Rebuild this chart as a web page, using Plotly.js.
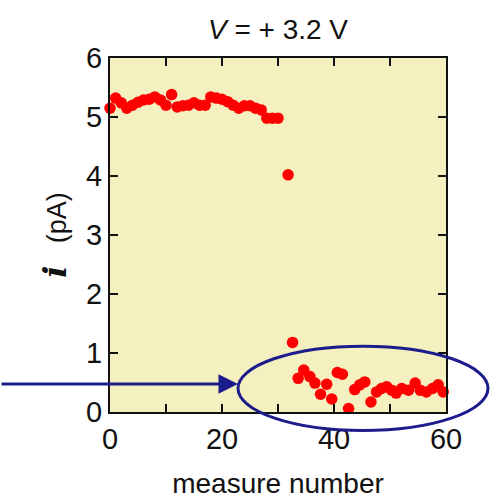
<!DOCTYPE html>
<html><head><meta charset="utf-8">
<script src="https://cdn.plot.ly/plotly-3.0.1.min.js"></script>
<style>html,body{margin:0;padding:0;background:#fff;}#chart{width:493px;height:501px;}</style>
</head><body><div id="chart"></div>
<script>
// measure numbers (x) and current values (pA)
const measureNumber = [0,1,2,3,4,5,6,7,8,9,10,11,12,13,14,15,16,17,18,19,20,21,22,23,24,25,26,27,28,29,30,
  31.8,32.6,33.6,34.6,35.7,36.6,37.6,38.7,39.6,40.6,41.5,42.6,43.7,44.6,45.5,46.6,47.6,48.5,49.4,50.3,51.1,52.1,53.3,54.5,55.4,56.5,57.6,58.6,59.5];
const currentPA = [5.15,5.32,5.24,5.15,5.2,5.25,5.29,5.3,5.34,5.29,5.2,5.38,5.17,5.19,5.2,5.24,5.2,5.2,5.34,5.32,5.3,5.26,5.2,5.15,5.19,5.19,5.15,5.12,4.98,4.98,4.98,
  4.02,1.18,0.57,0.71,0.6,0.49,0.3,0.47,0.22,0.67,0.64,0.06,0.38,0.46,0.51,0.17,0.34,0.4,0.43,0.37,0.32,0.4,0.37,0.49,0.37,0.34,0.4,0.46,0.34];
const xTicks = [0,20,40,60];
const yTicks = [0,1,2,3,4,5,6];
const titleText = '<i>V</i> = + 3.2 V';

const ink = '#111';
const navy = 'rgb(28,28,140)';
const fontFam = '"Liberation Sans", Arial, sans-serif';

const trace = {
  x: measureNumber, y: currentPA, type: 'scatter', mode: 'markers',
  marker: {color: '#ff0000', size: 11.5, line: {width: 0}},
  cliponaxis: false, hoverinfo: 'none'
};

const layout = {
  width: 493, height: 501,
  margin: {l: 110, r: 47, t: 58, b: 89},
  paper_bgcolor: '#ffffff',
  plot_bgcolor: 'rgb(245,240,192)',
  showlegend: false,
  font: {family: fontFam, color: ink, size: 28},
  title: {text: titleText, x: 0.5, xref: 'paper', y: 20, yref: 'container', yanchor: 'middle',
          font: {family: fontFam, size: 28, color: ink}},
  xaxis: {
    range: [0, 60], tickmode: 'array', tickvals: xTicks, ticktext: xTicks.map(String),
    ticks: 'inside', ticklen: 8, tickwidth: 2, tickcolor: ink,
    minor: {dtick: 10, tick0: 0, ticks: 'inside', ticklen: 8, tickwidth: 2, tickcolor: ink},
    showline: true, linecolor: ink, linewidth: 2, mirror: 'ticks',
    showgrid: false, zeroline: false,
    tickfont: {size: 29, family: fontFam, color: ink},
    title: {text: 'measure number', font: {size: 28, family: fontFam, color: ink}, standoff: 20}
  },
  yaxis: {
    range: [0, 6], tickmode: 'array', tickvals: yTicks, ticktext: yTicks.map(String),
    ticks: 'inside', ticklen: 8, tickwidth: 2, tickcolor: ink,
    showline: true, linecolor: ink, linewidth: 2, mirror: 'ticks',
    showgrid: false, zeroline: false,
    tickfont: {size: 29, family: fontFam, color: ink},
    title: {text: '<span style="font-family:\'DejaVu Serif\',serif;font-size:32px"><b><i>i</i></b></span>   (pA)',
            font: {size: 27, family: fontFam, color: ink}, standoff: 12}
  },
  shapes: [
    {type: 'circle', xref: 'paper', yref: 'paper', x0: 0.381, x1: 1.125, y0: -0.052, y1: 0.186,
     line: {color: navy, width: 3}, fillcolor: 'rgba(0,0,0,0)', layer: 'above'}
  ],
  annotations: [
    {xref: 'paper', yref: 'paper', x: 0.381, y: 0.079, text: '', showarrow: true,
     axref: 'pixel', ayref: 'pixel', ax: -240, ay: 0,
     arrowhead: 2, arrowsize: 1.3, arrowwidth: 3, arrowcolor: navy, standoff: 0}
  ]
};

Plotly.newPlot('chart', [trace], layout, {displayModeBar: false, staticPlot: true});
</script></body></html>
